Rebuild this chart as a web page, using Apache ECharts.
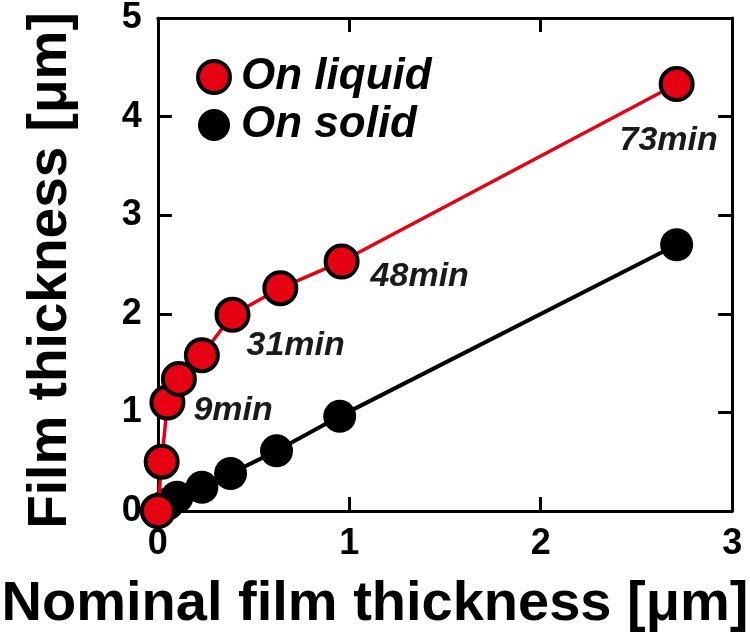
<!DOCTYPE html>
<html><head><meta charset="utf-8">
<script src="https://cdn.jsdelivr.net/npm/echarts@6/dist/echarts.min.js"></script>
<style>html,body{margin:0;padding:0;background:#fff}#c{width:750px;height:638px}</style>
</head><body><div id="c"></div>
<script>
// ---- data ----
const liquidX = [0, 0.02, 0.05, 0.11, 0.23, 0.39, 0.64, 0.96, 2.71];
const liquidY = [0, 0.50, 1.10, 1.34, 1.58, 1.99, 2.26, 2.53, 4.33];
const liquidLabels = ['', '', '9min', '', '', '31min', '', '48min', '73min'];
const solidX = [0, 0.05, 0.10, 0.23, 0.38, 0.62, 0.95, 2.71];
const solidY = [0, 0.07, 0.14, 0.24, 0.38, 0.61, 0.96, 2.70];
const xTicks = [0, 1, 2, 3];
const yTicks = [0, 1, 2, 3, 4, 5];
const seriesNames = ['On liquid', 'On solid'];
const xTitle = 'Nominal film thickness [μm]';
const yTitle = 'Film thickness [μm]';

// ---- styles ----
const FONT = '"Liberation Sans", Arial, Helvetica, sans-serif';
const RED = '#e50012';
const labelPlace = {
  2: {position: 'right', distance: 8, offset: [0, 8]},
  5: {position: 'right', distance: 0, offset: [-4, 31]},
  7: {position: 'right', distance: 11, offset: [0, 15]},
  8: {position: 'bottom', distance: 22, offset: [-8, 0]}
};
const liquidData = liquidX.map((x, i) => {
  const d = {value: [x, liquidY[i]]};
  if (liquidLabels[i]) {
    d.label = Object.assign({show: true, formatter: liquidLabels[i]}, labelPlace[i]);
  }
  return d;
});
const solidData = solidX.map((x, i) => [x, solidY[i]]);

const axisLine = {show: true, onZero: false, lineStyle: {color: '#000', width: 3}};
const axisTick = {show: true, inside: true, length: 14, lineStyle: {color: '#000', width: 3}};
const tickLabel = {color: '#000', fontSize: 36, fontWeight: 'bold', fontFamily: FONT};
const nameStyle = {color: '#000', fontWeight: 'bold', fontFamily: FONT};

const xMin = xTicks[0], xMax = xTicks[xTicks.length - 1], xInt = xTicks[1] - xTicks[0];
const yMin = yTicks[0], yMax = yTicks[yTicks.length - 1], yInt = yTicks[1] - yTicks[0];

const chart = echarts.init(document.getElementById('c'));
chart.setOption({
  animation: false,
  backgroundColor: '#fff',
  grid: {left: 155, right: 15, top: 17, bottom: 125, containLabel: false},
  legend: {
    orient: 'vertical', left: 196, top: 55, padding: 0,
    itemWidth: 32, itemHeight: 32, itemGap: 4, icon: 'circle',
    textStyle: {color: '#000', fontSize: 44, lineHeight: 44, fontStyle: 'italic', fontWeight: 'bold', fontFamily: FONT, padding: [0, 0, 0, 6]},
    data: [
      {name: seriesNames[0], itemStyle: {color: RED, borderColor: '#000', borderWidth: 4}},
      {name: seriesNames[1], itemStyle: {color: '#000', borderColor: '#000', borderWidth: 0}}
    ]
  },
  xAxis: [
    {type: 'value', min: xMin, max: xMax, interval: xInt, position: 'bottom',
     axisLine, axisTick, splitLine: {show: false},
     axisLabel: Object.assign({margin: 15}, tickLabel),
     name: xTitle, nameLocation: 'middle', nameGap: 66,
     nameTextStyle: Object.assign({fontSize: 56, padding: [0, 140, 0, 0]}, nameStyle)},
    {type: 'value', min: xMin, max: xMax, interval: xInt, position: 'top',
     axisLine, axisTick, splitLine: {show: false}, axisLabel: {show: false}}
  ],
  yAxis: [
    {type: 'value', min: yMin, max: yMax, interval: yInt, position: 'left',
     axisLine, axisTick, splitLine: {show: false},
     axisLabel: Object.assign({margin: 16}, tickLabel),
     name: yTitle, nameLocation: 'middle', nameGap: 80,
     nameTextStyle: Object.assign({fontSize: 55, padding: [0, 12, 0, 0]}, nameStyle)},
    {type: 'value', min: yMin, max: yMax, interval: yInt, position: 'right',
     axisLine, axisTick, splitLine: {show: false}, axisLabel: {show: false}}
  ],
  series: [
    {name: seriesNames[1], type: 'line', data: solidData, z: 2,
     symbol: 'circle', symbolSize: 33,
     itemStyle: {color: '#000'}, lineStyle: {color: '#000', width: 4}},
    {name: seriesNames[0], type: 'line', data: liquidData, z: 3,
     symbol: 'circle', symbolSize: 32,
     itemStyle: {color: RED, borderColor: '#000', borderWidth: 4},
     lineStyle: {color: RED, width: 3.5},
     label: {color: '#1a1a1a', fontSize: 34, fontStyle: 'italic', fontWeight: 'bold', fontFamily: FONT}}
  ]
});
</script></body></html>
